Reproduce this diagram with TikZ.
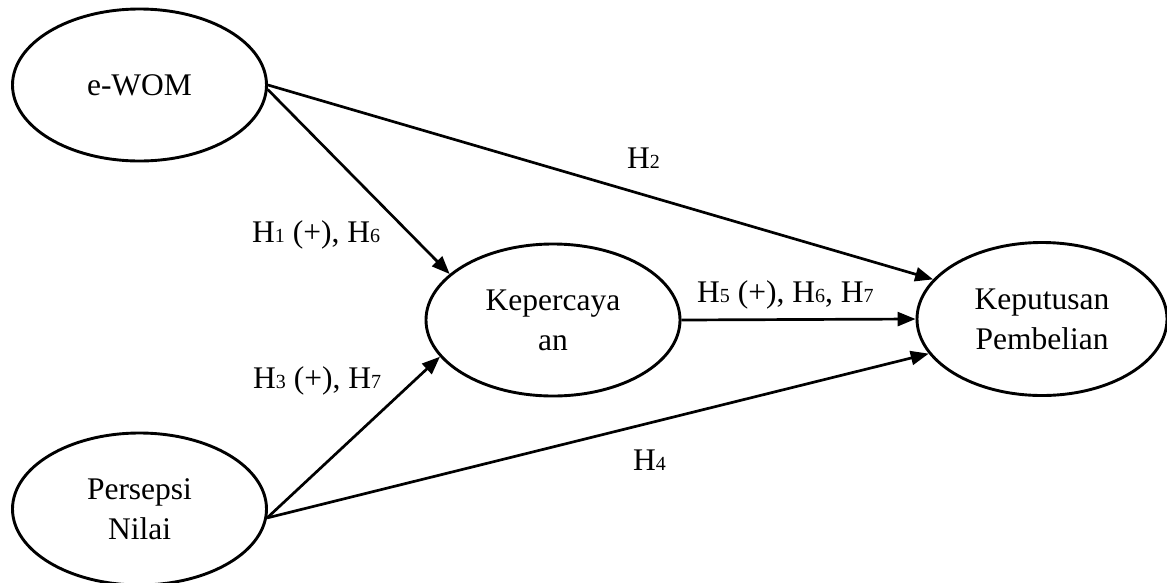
\documentclass[tikz,border=0pt]{standalone}
\usepackage{fontspec}
\setmainfont{Liberation Serif}
\usetikzlibrary{shapes.geometric,arrows.meta}
\newcommand\hsub[1]{{\fontsize{20}{20}\selectfont #1}}
\tikzset{
  var/.style={draw, ellipse, line width=2.9pt, inner sep=0pt, align=center,
    minimum width=254pt, minimum height=152pt,
    font=\fontsize{31.5}{40}\selectfont},
  lab/.style={anchor=base west, inner sep=0pt, font=\fontsize{31.5}{40}\selectfont},
  conn/.style={line width=2.7pt, -{Triangle[length=18pt,width=14pt]}}
}
\begin{document}
\begin{tikzpicture}[x=1pt,y=-1pt]
\useasboundingbox (0,0) rectangle (1167,582);
\clip (0,0) rectangle (1167,582);
\node[var] (ewom) at (139.5,85) {e-WOM};
\node[var] (pers) at (139.5,509) {Persepsi\\Nilai};
\node[var] (kep) at (553,320) {Kepercaya\\an};
\node[var, minimum width=250pt, minimum height=153pt] (keput) at (1042,319) {Keputusan\\Pembelian};

\draw[conn] (ewom.-2) -- (kep.156);
\draw[conn] (ewom.east) -- (keput.160);
\draw[conn] (kep.east) -- (keput.west);
\draw[conn] (pers.-4) -- (kep.198);
\draw[conn] (pers.-4) -- (keput.197);

\node[lab] (l2) at (627,168) {H\hsub{2}};
\node[lab] (l1) at (252,242) {H\hsub{1} (+), H\hsub{6}};
\node[lab] (l3) at (253,388) {H\hsub{3} (+), H\hsub{7}};
\node[lab] (l5) at (697,302) {H\hsub{5} (+), H\hsub{6}, H\hsub{7}};
\node[lab] (l4) at (633,470) {H\hsub{4}};
\end{tikzpicture}
\end{document}
